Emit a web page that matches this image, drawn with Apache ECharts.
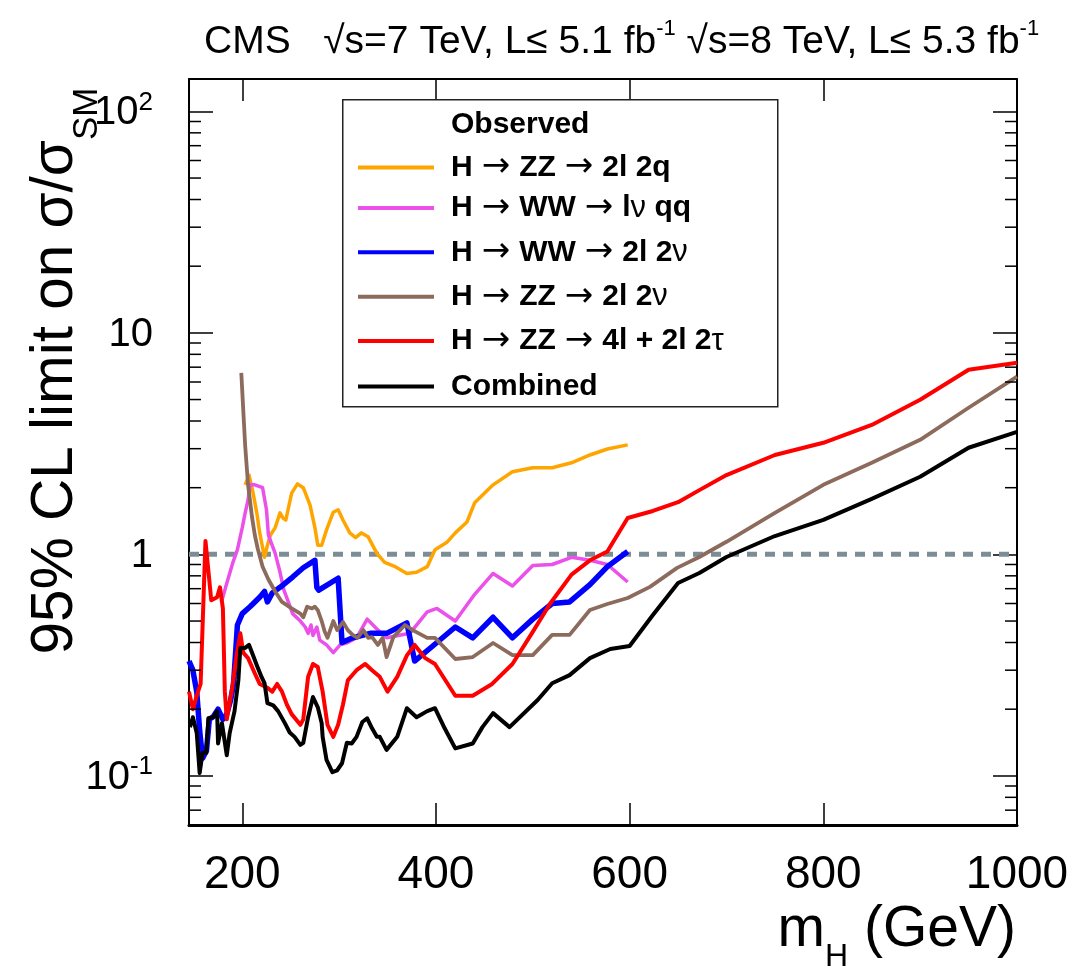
<!DOCTYPE html>
<html><head><meta charset="utf-8">
<script src="https://cdn.jsdelivr.net/npm/echarts@6/dist/echarts.min.js"></script>
<style>html,body{margin:0;padding:0;background:#fff}#c{width:1073px;height:973px}</style>
</head><body><div id="c"></div><script>
// ---- data (mH in GeV, 95% CL limit on sigma/sigma_SM) ----
const seriesNames = ['H → ZZ → 2l 2q', 'H → WW → lν qq', 'H → WW → 2l 2ν', 'H → ZZ → 2l 2ν', 'H → ZZ → 4l + 2l 2τ', 'Combined'];
const zz2l2q = [[203,2.06],[207,2.28],[211,1.91],[215,1.54],[218,1.25],[223,0.97],[226,1.10],[229,1.22],[234,1.32],[239,1.54],[242,1.46],[245,1.43],[251,1.89],[257,2.08],[263,2.0],[270,1.67],[275,1.32],[278,1.10],[282,1.10],[287,1.29],[294,1.55],[299,1.59],[304,1.43],[311,1.25],[317,1.19],[323,1.25],[330,1.20],[339,1.01],[347,0.92],[358,0.88],[370,0.82],[380,0.83],[391,0.88],[399,1.05],[411,1.13],[420,1.25],[432,1.40],[440,1.71],[459,2.06],[479,2.36],[500,2.46],[520,2.46],[540,2.59],[559,2.81],[577,2.99],[598,3.12]];
const wwlnqq = [[179,0.62],[184,0.74],[190,0.91],[195,1.05],[200,1.32],[203,1.54],[206,1.76],[208,2.06],[213,2.06],[221,2.0],[225,1.59],[227,1.22],[234,1.01],[239,0.83],[243,0.69],[247,0.62],[252,0.54],[260,0.50],[265,0.47],[268,0.44],[271,0.48],[273,0.43],[277,0.47],[280,0.41],[287,0.39],[294,0.36],[301,0.39],[309,0.40],[318,0.42],[329,0.51],[339,0.46],[349,0.42],[361,0.43],[373,0.44],[391,0.55],[401,0.57],[420,0.50],[440,0.66],[459,0.82],[479,0.72],[500,0.89],[520,0.90],[540,0.97],[559,0.94],[577,0.90],[598,0.75]];
const ww2l2nu = [[145,0.33],[149,0.30],[153,0.24],[156,0.16],[159,0.12],[163,0.13],[166,0.18],[170,0.185],[175,0.20],[180,0.18],[184,0.19],[188,0.22],[191,0.26],[195,0.48],[200,0.54],[208,0.58],[218,0.64],[223,0.68],[226,0.61],[231,0.67],[239,0.71],[252,0.79],[263,0.87],[275,0.94],[277,0.71],[279,0.69],[299,0.78],[303,0.40],[314,0.42],[332,0.44],[349,0.44],[370,0.49],[378,0.33],[401,0.40],[420,0.47],[438,0.42],[459,0.52],[479,0.42],[500,0.51],[520,0.60],[538,0.61],[559,0.73],[577,0.88],[598,1.03]];
const zz2l2nu = [[199,6.6],[201,4.5],[203,3.1],[206,2.06],[210,1.48],[213,1.22],[216,1.06],[221,0.88],[227,0.77],[234,0.68],[241,0.61],[251,0.57],[260,0.54],[263,0.52],[267,0.58],[272,0.57],[275,0.58],[278,0.56],[282,0.50],[285,0.45],[288,0.42],[294,0.50],[298,0.455],[304,0.495],[309,0.455],[314,0.433],[319,0.42],[325,0.455],[330,0.42],[334,0.423],[340,0.39],[345,0.42],[349,0.344],[356,0.423],[368,0.48],[376,0.455],[391,0.42],[399,0.42],[420,0.337],[438,0.344],[459,0.398],[479,0.351],[500,0.351],[520,0.433],[538,0.433],[559,0.561],[577,0.597],[598,0.635],[621,0.713],[649,0.869],[672,0.973],[700,1.14],[750,1.54],[800,2.06],[850,2.59],[900,3.29],[950,4.59],[1000,6.34]];
const zz4l = [[145,0.24],[149,0.20],[153,0.23],[157,0.26],[162,1.15],[168,0.62],[174,0.64],[177,0.71],[180,0.57],[182,0.24],[184,0.18],[189,0.24],[195,0.37],[198,0.44],[201,0.36],[206,0.34],[213,0.29],[218,0.26],[226,0.25],[231,0.24],[236,0.26],[241,0.24],[246,0.21],[251,0.19],[260,0.17],[263,0.18],[268,0.28],[273,0.32],[278,0.31],[283,0.24],[288,0.17],[294,0.15],[299,0.17],[304,0.21],[309,0.27],[318,0.30],[327,0.32],[334,0.30],[342,0.28],[350,0.24],[360,0.28],[370,0.35],[378,0.39],[389,0.34],[399,0.32],[420,0.23],[438,0.23],[458,0.26],[479,0.32],[499,0.44],[518,0.60],[540,0.81],[559,0.94],[577,1.03],[598,1.46],[624,1.57],[650,1.72],[672,1.95],[700,2.28],[750,2.81],[800,3.19],[850,3.84],[900,4.99],[950,6.81],[1000,7.33]];
const combined = [[146,0.166],[149,0.184],[153,0.156],[156,0.103],[159,0.127],[163,0.127],[165,0.182],[170,0.184],[174,0.196],[175,0.140],[179,0.173],[184,0.124],[187,0.156],[192,0.196],[196,0.271],[198,0.378],[203,0.378],[207,0.390],[211,0.351],[215,0.316],[220,0.279],[223,0.262],[226,0.213],[232,0.208],[237,0.196],[244,0.173],[249,0.157],[254,0.150],[260,0.138],[263,0.141],[268,0.184],[273,0.227],[278,0.204],[282,0.173],[283,0.150],[287,0.118],[293,0.104],[298,0.106],[303,0.114],[308,0.141],[313,0.140],[318,0.150],[324,0.175],[329,0.182],[334,0.164],[339,0.150],[342,0.150],[349,0.131],[360,0.150],[370,0.202],[380,0.184],[391,0.196],[399,0.202],[409,0.164],[420,0.133],[438,0.140],[448,0.166],[459,0.192],[476,0.166],[505,0.220],[520,0.262],[538,0.285],[559,0.340],[580,0.374],[600,0.386],[624,0.532],[650,0.743],[672,0.824],[700,0.973],[750,1.21],[800,1.43],[850,1.78],[900,2.24],[950,3.03],[1000,3.57]];
const smLine = [[145,1],[1000,1]];
const xTickValues = [200, 400, 600, 800, 1000];
const yTickValues = [0.1, 1, 10, 100];
const yMinorTickValues = [0.07,0.08,0.09,0.2,0.3,0.4,0.5,0.6,0.7,0.8,0.9,2,3,4,5,6,7,8,9,20,30,40,50,60,70,80,90];
const massMin = 145, massMax = 1000, limMin = 0.06, limMax = 140;

// ---- styling ----
const SANS = "'Liberation Sans', Arial, Helvetica, sans-serif";
const SYM = "'DejaVu Sans', 'Liberation Sans', sans-serif";
const colors = ['#ffa500', '#ec50ea', '#0000ff', '#8c6a5c', '#ff0000', '#000000'];
const widths = [3.5, 3.5, 5.5, 3.8, 4, 4];
const legendTops = [150.5, 191, 235.3, 279.7, 324, 371.5];
const seriesData = [zz2l2q, wwlnqq, ww2l2nu, zz2l2nu, zz4l, combined];

function richify(name) {
  const parts = name.split('→').map(s => s.trim());
  let out = '{p| }';
  parts.forEach((seg, i) => {
    if (i > 0) out += '{a|→}';
    let buf = '';
    for (const ch of seg) {
      if (ch === 'ν' || ch === 'τ') {
        if (buf) { out += '{b|' + buf + '}'; buf = ''; }
        out += '{s|' + ch + '}';
      } else buf += ch;
    }
    if (buf) out += '{b|' + buf + '}';
  });
  return out;
}

const chart = echarts.init(document.getElementById('c'), null, {renderer: 'canvas'});

const lineSeries = seriesNames.map((n, i) => ({
  name: n, type: 'line', data: seriesData[i], showSymbol: false, symbol: 'none',
  color: colors[i], lineStyle: {color: colors[i], width: widths[i], join: 'round'},
  z: 3 + i * 0.01, animation: false, silent: true
}));

const legendRich = {
  p: {width: 12, fontSize: 30, lineHeight: 31},
  b: {fontFamily: SANS, fontSize: 30, fontWeight: 'bold', color: '#000', lineHeight: 31},
  a: {fontFamily: SYM, fontSize: 34, fontWeight: 'normal', color: '#000', lineHeight: 31, padding: [0, 9, 0, 9]},
  s: {fontFamily: SANS, fontSize: 31, fontWeight: 'normal', color: '#000', lineHeight: 31}
};
const legends = seriesNames.map((n, i) => ({
  data: [n], orient: 'vertical', left: 358, top: legendTops[i], padding: 0,
  itemWidth: 76, itemHeight: 4, icon: 'rect', selectedMode: false, z: 6,
  formatter: richify, textStyle: {rich: legendRich}
}));

const option = {
  animation: false,
  backgroundColor: '#fff',
  title: {
    text: '{t|CMS   √s=7 TeV, L≤ 5.1 fb}{sup|-1}{t| √s=8 TeV, L≤ 5.3 fb}{sup|-1}',
    left: 199, top: 13,
    textStyle: {
      fontWeight: 'normal',
      rich: {
        t: {fontFamily: SANS, fontSize: 39, fontWeight: 'normal', color: '#000', lineHeight: 44, verticalAlign: 'bottom'},
        sup: {fontFamily: SANS, fontSize: 22, fontWeight: 'normal', color: '#000', lineHeight: 22, verticalAlign: 'top'}
      }
    }
  },
  grid: {left: 189, right: 56, top: 79, bottom: 148, show: false, outerBoundsMode: 'none', containLabel: false},
  xAxis: [
    {type: 'value', min: massMin, max: massMax, position: 'bottom',
      axisLine: {show: true, lineStyle: {color: '#000', width: 3}},
      axisTick: {show: true, inside: true, length: 22, customValues: xTickValues, lineStyle: {color: '#000', width: 1.5}},
      axisLabel: {show: true, customValues: xTickValues, margin: 27, fontSize: 46, fontFamily: SANS, color: '#000',
        formatter: v => String(v)},
      splitLine: {show: false}},
    {type: 'value', min: massMin, max: massMax, position: 'top',
      axisLine: {show: true, lineStyle: {color: '#000', width: 2}},
      axisTick: {show: true, inside: true, length: 22, customValues: xTickValues, lineStyle: {color: '#000', width: 1.5}},
      axisLabel: {show: false}, splitLine: {show: false}}
  ],
  yAxis: [
    {type: 'log', logBase: 10, min: limMin, max: limMax, position: 'left',
      axisLine: {show: true, lineStyle: {color: '#000', width: 2}},
      axisTick: {show: true, inside: true, length: 24, customValues: yTickValues, lineStyle: {color: '#000', width: 1.5}},
      axisLabel: {show: true, customValues: yTickValues, margin: 36, color: '#000',
        formatter: function (v) {
          const e = Math.round(Math.log10(v));
          if (e === 0) return '{a|1}';
          if (e === 1) return '{a|10}';
          return '{a|10}{sup|' + (e < 0 ? '-' : '') + Math.abs(e) + '}';
        },
        rich: {
          a: {fontFamily: SANS, fontSize: 40, color: '#000', lineHeight: 44, verticalAlign: 'bottom'},
          sup: {fontFamily: SANS, fontSize: 26, color: '#000', lineHeight: 26, verticalAlign: 'top'}
        }},
      splitLine: {show: false}},
    {type: 'log', logBase: 10, min: limMin, max: limMax, position: 'right',
      axisLine: {show: true, lineStyle: {color: '#000', width: 2}},
      axisTick: {show: true, inside: true, length: 24, customValues: yTickValues, lineStyle: {color: '#000', width: 1.5}},
      axisLabel: {show: false}, splitLine: {show: false}}
  ],
  legend: legends,
  graphic: [
    {type: 'rect', left: 342, top: 99, z: 5, shape: {width: 435, height: 307},
      style: {fill: '#fff', stroke: '#222', lineWidth: 1.5}},
    {type: 'text', left: 451, top: 110, z: 7,
      style: {text: 'Observed', font: 'bold 30px ' + SANS, fill: '#000'}},
    {type: 'text', x: 55, y: 371, rotation: Math.PI / 2, z: 7,
      style: {
        text: '{a|95% CL limit on σ/σ}{s|SM}', align: 'center', verticalAlign: 'middle',
        rich: {
          a: {fontFamily: SANS, fontSize: 58.5, fill: '#000', lineHeight: 58, verticalAlign: 'top'},
          s: {fontFamily: SANS, fontSize: 35, fill: '#000', lineHeight: 35, padding: [44, 0, 0, 0], verticalAlign: 'top'}
        }
      }},
    {type: 'text', x: 1016, y: 932, z: 7,
      style: {
        text: '{a|m}{s|H}{a| (GeV)}', align: 'right', verticalAlign: 'middle',
        rich: {
          a: {fontFamily: SANS, fontSize: 57, fill: '#000', lineHeight: 60, verticalAlign: 'top'},
          s: {fontFamily: SANS, fontSize: 32, fill: '#000', lineHeight: 32, padding: [39, 0, 0, 0], verticalAlign: 'top'}
        }
      }}
  ],
  series: [
    {name: 'SM', type: 'line', data: smLine, symbol: 'none', silent: true, z: 2,
      lineStyle: {color: '#7d8d96', width: 5, type: [10, 8]}},
    {name: 'minorTicks', type: 'custom', silent: true, z: 4, clip: false,
      data: yMinorTickValues.map(v => [massMin, v]),
      renderItem: function (params, api) {
        const v = api.value(1);
        const pL = api.coord([massMin, v]);
        const pR = api.coord([massMax, v]);
        return {type: 'group', children: [
          {type: 'line', shape: {x1: pL[0], y1: pL[1], x2: pL[0] + 12, y2: pL[1]}, style: {stroke: '#000', lineWidth: 1.5}},
          {type: 'line', shape: {x1: pR[0], y1: pR[1], x2: pR[0] - 12, y2: pR[1]}, style: {stroke: '#000', lineWidth: 1.5}}
        ]};
      }}
  ].concat(lineSeries)
};
chart.setOption(option);
</script></body></html>
